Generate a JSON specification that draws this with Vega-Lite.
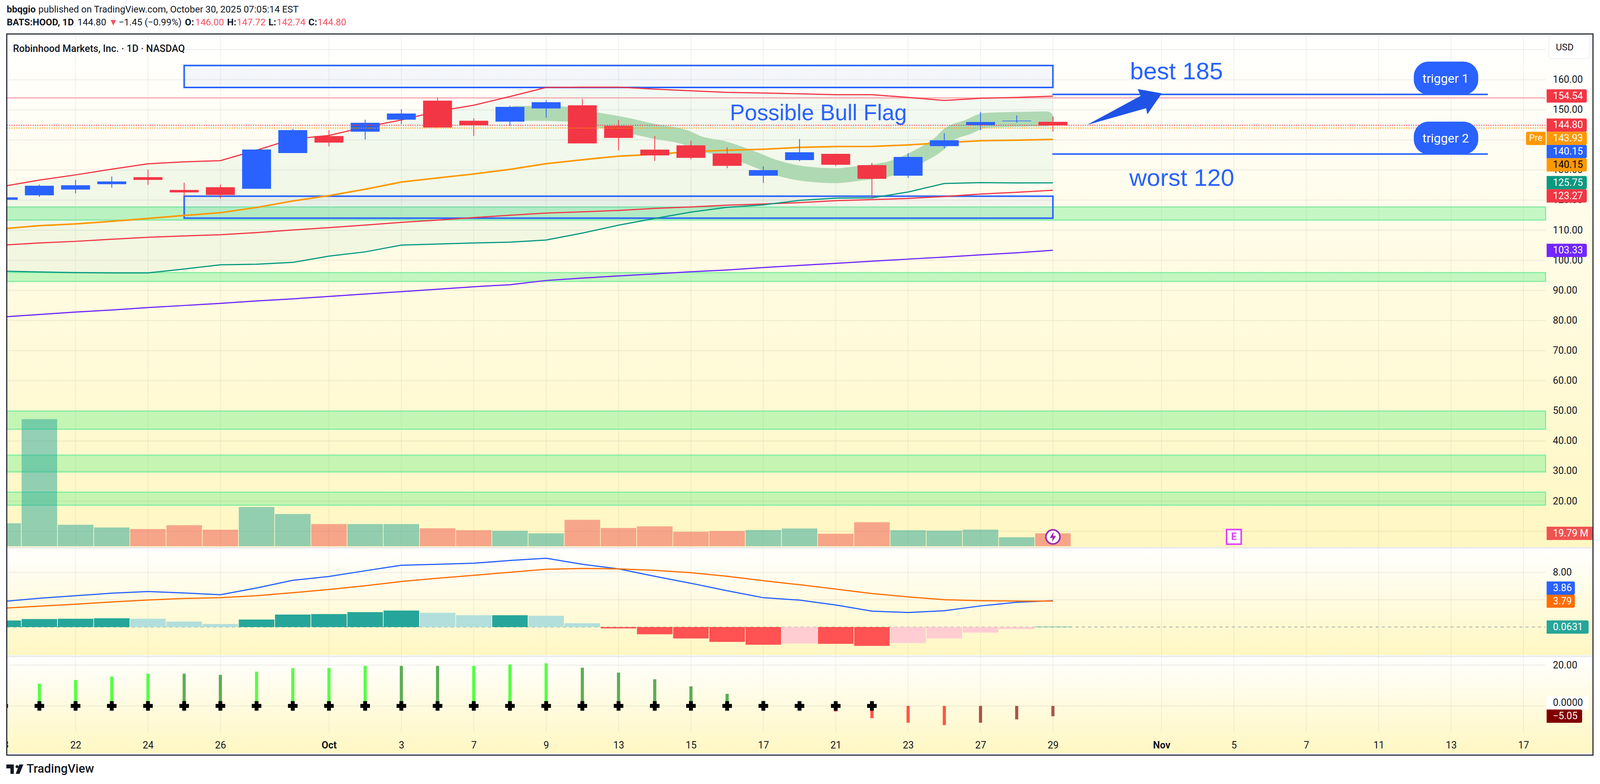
{
  "$schema": "https://vega.github.io/schema/vega-lite/v6.json",
  "width": 4096,
  "height": 2008,
  "autosize": {"type": "none"},
  "padding": 0,
  "background": "#ffffff",
  "config": {"view": {"stroke": null}, "font": "Roboto", "text": {"font": "Roboto"}},
  "datasets": {
    "bars": [
      {"bar":-2,"dir":"up","open":120.09,"high":120.89,"low":120.09,"close":120.89,"vol":35.4,"upper":124.58,"mid":110.5,"ma200":105.05,"lower":96.4,"ma50":81.2,"macd":3.74,"signal":2.75,"hist":0.95,"histKind":"upStrong","mom":9,"momKind":"upBright"},
      {"bar":-1,"dir":"up","open":121.58,"high":125.15,"low":121.07,"close":124.75,"vol":195.9,"upper":126.65,"mid":111.5,"ma200":105.75,"lower":96.13,"ma50":82,"macd":4.21,"signal":3.05,"hist":1.17,"histKind":"upStrong","mom":10.9,"momKind":"upBright"},
      {"bar":0,"dir":"up","open":123.49,"high":126.71,"low":122.22,"close":124.93,"vol":33.1,"upper":128.38,"mid":112.08,"ma200":106.3,"lower":95.9,"ma50":82.8,"macd":4.58,"signal":3.34,"hist":1.21,"histKind":"upStrong","mom":12.7,"momKind":"upBright"},
      {"bar":1,"dir":"up","open":125.27,"high":127.86,"low":124.12,"close":126.19,"vol":28.9,"upper":130.28,"mid":112.95,"ma200":107,"lower":95.8,"ma50":83.5,"macd":4.95,"signal":3.67,"hist":1.28,"histKind":"upStrong","mom":14.4,"momKind":"upBright"},
      {"bar":2,"dir":"down","open":127.63,"high":130.05,"low":125.04,"close":126.71,"vol":26.5,"upper":132.07,"mid":113.9,"ma200":107.65,"lower":95.8,"ma50":84.3,"macd":5.2,"signal":3.96,"hist":1.21,"histKind":"upWeak","mom":15.8,"momKind":"upBright"},
      {"bar":3,"dir":"down","open":123.37,"high":125.79,"low":121.3,"close":122.57,"vol":32.3,"upper":132.7,"mid":114.9,"ma200":108.1,"lower":97.1,"ma50":85,"macd":4.98,"signal":4.18,"hist":0.8,"histKind":"upWeak","mom":15.8,"momKind":"upDull"},
      {"bar":4,"dir":"down","open":124.29,"high":125.15,"low":120.55,"close":121.7,"vol":25.4,"upper":133.1,"mid":115.8,"ma200":108.5,"lower":98.5,"ma50":85.7,"macd":4.73,"signal":4.29,"hist":0.44,"histKind":"upWeak","mom":15.2,"momKind":"upDull"},
      {"bar":5,"dir":"up","open":123.77,"high":136.9,"low":123.77,"close":136.79,"vol":60.4,"upper":136.56,"mid":117.55,"ma200":109.2,"lower":98.7,"ma50":86.5,"macd":5.71,"signal":4.58,"hist":1.1,"histKind":"upStrong","mom":16.8,"momKind":"upBright"},
      {"bar":6,"dir":"up","open":135.64,"high":143.65,"low":135.64,"close":143.24,"vol":49.6,"upper":140.3,"mid":119.7,"ma200":110.07,"lower":99.3,"ma50":87.2,"macd":6.84,"signal":5.02,"hist":1.83,"histKind":"upStrong","mom":18.5,"momKind":"upBright"},
      {"bar":7,"dir":"down","open":141.28,"high":143.24,"low":137.83,"close":139.1,"vol":34.2,"upper":141.46,"mid":121.5,"ma200":110.87,"lower":101.4,"ma50":88,"macd":7.39,"signal":5.49,"hist":1.9,"histKind":"upStrong","mom":18.6,"momKind":"upBright"},
      {"bar":8,"dir":"up","open":142.73,"high":146.7,"low":140.13,"close":145.66,"vol":34.2,"upper":144.3,"mid":123.6,"ma200":111.7,"lower":102.8,"ma50":88.8,"macd":8.23,"signal":6.04,"hist":2.19,"histKind":"upStrong","mom":19.6,"momKind":"upBright"},
      {"bar":9,"dir":"up","open":146.7,"high":150.21,"low":145.26,"close":148.77,"vol":34.2,"upper":146.6,"mid":126,"ma200":112.6,"lower":105.05,"ma50":89.6,"macd":9.04,"signal":6.66,"hist":2.41,"histKind":"upStrong","mom":19.6,"momKind":"upDull"},
      {"bar":10,"dir":"down","open":153.03,"high":153.96,"low":144.11,"close":144.11,"vol":27.7,"upper":149.5,"mid":127.35,"ma200":113.35,"lower":105.4,"ma50":90.4,"macd":9.18,"signal":7.14,"hist":2.08,"histKind":"upWeak","mom":19.6,"momKind":"upDull"},
      {"bar":11,"dir":"down","open":146.35,"high":147.2,"low":141.29,"close":144.86,"vol":24.6,"upper":151.5,"mid":128.67,"ma200":114.2,"lower":105.75,"ma50":91.2,"macd":9.33,"signal":7.57,"hist":1.72,"histKind":"upWeak","mom":19.6,"momKind":"upBright"},
      {"bar":12,"dir":"up","open":146.07,"high":151.37,"low":144.68,"close":150.96,"vol":23.8,"upper":154.4,"mid":130.2,"ma200":114.96,"lower":106.03,"ma50":91.9,"macd":9.73,"signal":8.01,"hist":1.72,"histKind":"upStrong","mom":20.3,"momKind":"upBright"},
      {"bar":13,"dir":"up","open":150.43,"high":153.15,"low":147.37,"close":152.5,"vol":19.8,"upper":157.4,"mid":132.1,"ma200":115.7,"lower":106.73,"ma50":93.3,"macd":10.06,"signal":8.45,"hist":1.64,"histKind":"upWeak","mom":20.9,"momKind":"upBright"},
      {"bar":14,"dir":"down","open":151.47,"high":153.54,"low":138.83,"close":138.83,"vol":40.7,"upper":157.5,"mid":133.4,"ma200":116.1,"lower":109.05,"ma50":94.1,"macd":9.18,"signal":8.57,"hist":0.56,"histKind":"upWeak","mom":18.7,"momKind":"upDull"},
      {"bar":15,"dir":"down","open":144.65,"high":146.58,"low":136.51,"close":140.66,"vol":28.1,"upper":157.5,"mid":134.6,"ma200":116.56,"lower":111.67,"ma50":94.8,"macd":8.51,"signal":8.51,"hist":-0.2,"histKind":"downStrong","mom":16.3,"momKind":"upDull"},
      {"bar":16,"dir":"down","open":136.75,"high":141.3,"low":133,"close":134.83,"vol":30.5,"upper":156.85,"mid":135.2,"ma200":117.25,"lower":113.9,"ma50":95.5,"macd":7.42,"signal":8.3,"hist":-1.05,"histKind":"downStrong","mom":13.06,"momKind":"upDull"},
      {"bar":17,"dir":"down","open":138.19,"high":139.72,"low":133.54,"close":134.04,"vol":22.2,"upper":156.3,"mid":136.1,"ma200":117.74,"lower":116,"ma50":96.2,"macd":6.4,"signal":7.95,"hist":-1.67,"histKind":"downStrong","mom":9.6,"momKind":"upDull"},
      {"bar":18,"dir":"down","open":135.47,"high":137.54,"low":130.58,"close":131.37,"vol":23.4,"upper":155.8,"mid":136.56,"ma200":118.3,"lower":117.6,"ma50":96.8,"macd":5.31,"signal":7.42,"hist":-2.17,"histKind":"downStrong","mom":5.9,"momKind":"upDull"},
      {"bar":19,"dir":"up","open":128.11,"high":131.22,"low":125.69,"close":129.94,"vol":25,"upper":155.57,"mid":136.9,"ma200":118.7,"lower":118.4,"ma50":97.6,"macd":4.29,"signal":6.78,"hist":-2.58,"histKind":"downStrong","mom":2.45,"momKind":"upDull"},
      {"bar":20,"dir":"up","open":133.3,"high":140.26,"low":132.9,"close":135.87,"vol":27.4,"upper":155.3,"mid":137.5,"ma200":119.17,"lower":119.9,"ma50":98.3,"macd":3.94,"signal":6.19,"hist":-2.4,"histKind":"downWeak","mom":0,"momKind":"upDull"},
      {"bar":21,"dir":"down","open":135.37,"high":135.37,"low":131.37,"close":131.72,"vol":19.2,"upper":155,"mid":137.8,"ma200":119.8,"lower":120.66,"ma50":99,"macd":3.23,"signal":5.55,"hist":-2.46,"histKind":"downStrong","mom":-2.75,"momKind":"downBright"},
      {"bar":22,"dir":"down","open":131.62,"high":132.36,"low":120.8,"close":127.08,"vol":37,"upper":155,"mid":137.84,"ma200":120.16,"lower":120.75,"ma50":99.7,"macd":2.33,"signal":4.9,"hist":-2.75,"histKind":"downStrong","mom":-6,"momKind":"downBright"},
      {"bar":23,"dir":"up","open":128.11,"high":135.62,"low":127.37,"close":134.33,"vol":24.7,"upper":154.1,"mid":138.3,"ma200":120.56,"lower":122.68,"ma50":100.4,"macd":2.12,"signal":4.41,"hist":-2.34,"histKind":"downWeak","mom":-8.25,"momKind":"downBright"},
      {"bar":24,"dir":"up","open":137.94,"high":142.19,"low":137.15,"close":139.87,"vol":24.1,"upper":153.1,"mid":139.07,"ma200":121.2,"lower":125.5,"ma50":101.05,"macd":2.39,"signal":4,"hist":-1.67,"histKind":"downWeak","mom":-9.4,"momKind":"downBright"},
      {"bar":25,"dir":"up","open":144.9,"high":149.3,"low":143.22,"close":145.94,"vol":25.6,"upper":153.8,"mid":139.7,"ma200":122,"lower":125.8,"ma50":101.8,"macd":3.09,"signal":3.85,"hist":-0.82,"histKind":"downWeak","mom":-8.25,"momKind":"downDull"},
      {"bar":26,"dir":"up","open":146.19,"high":148.11,"low":145.69,"close":146.38,"vol":13.9,"upper":154.1,"mid":139.9,"ma200":122.6,"lower":125.7,"ma50":102.5,"macd":3.62,"signal":3.8,"hist":-0.29,"histKind":"downWeak","mom":-6.6,"momKind":"downDull"},
      {"bar":27,"dir":"down","open":146,"high":147.72,"low":142.74,"close":144.8,"vol":19.79,"upper":154.54,"mid":140.15,"ma200":123.27,"lower":125.75,"ma50":103.33,"macd":3.86,"signal":3.79,"hist":0.0631,"histKind":"upStrong","mom":-5.05,"momKind":"downDull"}
    ],
    "xticks": [{"bar":-2},{"bar":0},{"bar":2},{"bar":4},{"bar":7},{"bar":9},{"bar":11},{"bar":13},{"bar":15},{"bar":17},{"bar":19},{"bar":21},{"bar":23},{"bar":25},{"bar":27},{"bar":30},{"bar":32},{"bar":34},{"bar":36},{"bar":38},{"bar":40}],
    "brush": [
      {"k":0,"bar":12.15,"price":148.8},{"k":1,"bar":12.71,"price":148.8},{"k":2,"bar":13.65,"price":148.5},{"k":3,"bar":14.39,"price":146.7},{"k":4,"bar":15.06,"price":145.3},{"k":5,"bar":16,"price":142.8},{"k":6,"bar":16.85,"price":140.8},{"k":7,"bar":17.23,"price":138.8},{"k":8,"bar":17.89,"price":137.2},{"k":9,"bar":18.73,"price":133.7},{"k":10,"bar":19.3,"price":131},{"k":11,"bar":20.24,"price":128.6},{"k":12,"bar":20.99,"price":128.1},{"k":13,"bar":21.65,"price":128.9},{"k":14,"bar":22.6,"price":130.8},{"k":15,"bar":23.34,"price":134.8},{"k":16,"bar":23.9,"price":139.1},{"k":17,"bar":24.1,"price":141.5},{"k":18,"bar":24.66,"price":144.3},{"k":19,"bar":25.13,"price":146.5},{"k":20,"bar":25.88,"price":146.8},{"k":21,"bar":26.82,"price":147}
    ],
    "arrow": [
      {"k":0,"bar":27.98,"price":145.15},{"k":1,"bar":29.43,"price":154.6},{"k":2,"bar":29.35,"price":156.8},{"k":3,"bar":30,"price":155.4},{"k":4,"bar":29.61,"price":148.6},{"k":5,"bar":29.58,"price":150.6},{"k":6,"bar":27.98,"price":145.15}
    ],
    "priceTags": [
      {"label":"154.54","pos":154.6,"series":"upper","bar":40.64,"bar2":41.75},
      {"label":"144.80","pos":144.9,"series":"last","bar":40.64,"bar2":41.75},
      {"label":"143.93","pos":140.5,"series":"pre","bar":40.64,"bar2":41.75},
      {"label":"140.15","pos":136.1,"series":"blue","bar":40.64,"bar2":41.75},
      {"label":"140.15","pos":131.7,"series":"mid","bar":40.64,"bar2":41.75},
      {"label":"125.75","pos":125.8,"series":"lower","bar":40.64,"bar2":41.75},
      {"label":"123.27","pos":121.4,"series":"ma200","bar":40.64,"bar2":41.75},
      {"label":"103.33","pos":103.3,"series":"ma50","bar":40.64,"bar2":41.75}
    ]
  },
  "encoding": {
    "x": {
      "field": "bar",
      "type": "quantitative",
      "scale": {"domain": [-2.034, 42.06], "nice": false, "zero": false},
      "axis": {
        "orient": "bottom",
        "offset": -100,
        "values": [0,2,4,7,9,11,13,15,17,19,21,23,25,27,30,32,34,36,38,40],
        "labelExpr": "{'0':'22','2':'24','4':'26','7':'Oct','9':'3','11':'7','13':'9','15':'13','17':'15','19':'17','21':'21','23':'23','25':'27','27':'29','30':'Nov','32':'5','34':'7','36':'11','38':'13','40':'17'}[datum.value]",
        "labelFontWeight": {"condition": {"test": "datum.value == 7 || datum.value == 30", "value": "bold"}, "value": "normal"},
        "labelFontSize": 25,
        "labelColor": "#131722",
        "labelFont": "Roboto",
        "labelBaseline": "middle",
        "labelPadding": 0,
        "labelOverlap": false,
        "labelFlush": false,
        "labelBound": false,
        "domain": false,
        "ticks": false,
        "grid": false,
        "title": null,
        "zindex": 1
      }
    }
  },
  "resolve": {"scale": {"y": "independent", "color": "independent"}, "axis": {"y": "independent"}},
  "layer": [
    {
      "resolve": {"scale": {"color": "independent"}},
      "layer": [
        {
          "data": {"values": [{"bar":-1.9,"bar2":41.92,"top":174.58,"bot":4.77},{"bar":-1.9,"bar2":41.92,"top":4.77,"bot":-31.1},{"bar":-1.9,"bar2":41.92,"top":-31.1,"bot":-63.74}]},
          "mark": {"type": "rect", "fill": {"x1":0,"y1":0,"x2":0,"y2":1,"gradient":"linear","stops":[{"offset":0,"color":"#ffffff"},{"offset":1,"color":"#FFF7C2"}]}},
          "encoding": {
            "x2": {"field": "bar2"},
            "y": {"field": "top", "type": "quantitative", "scale": {"domain": [-73.29, 185.81], "nice": false, "zero": false}, "axis": null},
            "y2": {"field": "bot"}
          }
        },
        {
          "data": {"name": "xticks"},
          "mark": {"type": "rule", "stroke": "#000000", "strokeOpacity": 0.06, "strokeWidth": 2},
          "encoding": {"y": {"datum": 174.58, "axis": null}, "y2": {"datum": -56.5}}
        },
        {
          "data": {"values": [{"bar":-1.9,"bar2":40.61,"price":170},{"bar":-1.9,"bar2":40.61,"price":160},{"bar":-1.9,"bar2":40.61,"price":150},{"bar":-1.9,"bar2":40.61,"price":140},{"bar":-1.9,"bar2":40.61,"price":130},{"bar":-1.9,"bar2":40.61,"price":120},{"bar":-1.9,"bar2":40.61,"price":110},{"bar":-1.9,"bar2":40.61,"price":100},{"bar":-1.9,"bar2":40.61,"price":90},{"bar":-1.9,"bar2":40.61,"price":80},{"bar":-1.9,"bar2":40.61,"price":70},{"bar":-1.9,"bar2":40.61,"price":60},{"bar":-1.9,"bar2":40.61,"price":50},{"bar":-1.9,"bar2":40.61,"price":40},{"bar":-1.9,"bar2":40.61,"price":30},{"bar":-1.9,"bar2":40.61,"price":20},{"bar":-1.9,"bar2":40.61,"price":10}]},
          "mark": {"type": "rule", "stroke": "#000000", "strokeOpacity": 0.05, "strokeWidth": 3},
          "encoding": {"x2": {"field": "bar2"}, "y": {"field": "price", "type": "quantitative", "axis": null}}
        },
        {
          "data": {"values": [{"bar":-1.9,"bar2":40.61,"hi":117.7,"lo":113.4},{"bar":-1.9,"bar2":40.61,"hi":95.9,"lo":93},{"bar":-1.9,"bar2":40.61,"hi":49.9,"lo":43.9},{"bar":-1.9,"bar2":40.61,"hi":35.3,"lo":29.7},{"bar":-1.9,"bar2":40.61,"hi":23,"lo":18.7}]},
          "mark": {"type": "rect", "fill": "#66EE88", "fillOpacity": 0.38, "stroke": "#84EDA4", "strokeWidth": 3},
          "encoding": {"x2": {"field": "bar2"}, "y": {"field": "hi", "type": "quantitative", "axis": null}, "y2": {"field": "lo"}}
        },
        {
          "data": {"name": "bars"},
          "mark": {"type": "area", "fill": "#089981", "fillOpacity": 0.05},
          "encoding": {"y": {"field": "upper", "type": "quantitative", "axis": null}, "y2": {"field": "lower"}}
        },
        {
          "data": {"values": [{"bar":3,"bar2":27,"hi":164.7,"lo":157.4},{"bar":3,"bar2":27,"hi":121.3,"lo":114}]},
          "mark": {"type": "rect", "fill": "#2962FF", "fillOpacity": 0.05, "stroke": "#2962FF", "strokeWidth": 4},
          "encoding": {"x2": {"field": "bar2"}, "y": {"field": "hi", "type": "quantitative", "axis": null}, "y2": {"field": "lo"}}
        },
        {
          "data": {"name": "brush"},
          "mark": {"type": "line", "stroke": "#AFD9B3", "strokeWidth": 38, "strokeCap": "round", "strokeJoin": "round", "interpolate": "monotone"},
          "encoding": {"y": {"field": "price", "type": "quantitative", "axis": null}, "order": {"field": "k"}}
        },
        {
          "data": {"values": [{"bar":-1.9,"bar2":40.61,"price":153.95}]},
          "mark": {"type": "rule", "stroke": "#F7A8AE", "strokeWidth": 3},
          "encoding": {"x2": {"field": "bar2"}, "y": {"field": "price", "type": "quantitative", "axis": null}}
        },
        {"data": {"name": "bars"}, "mark": {"type": "line", "stroke": "#F23645", "strokeWidth": 3}, "encoding": {"y": {"field": "upper", "type": "quantitative", "axis": null}}},
        {"data": {"name": "bars"}, "mark": {"type": "line", "stroke": "#FF9800", "strokeWidth": 4}, "encoding": {"y": {"field": "mid", "type": "quantitative", "axis": null}}},
        {"data": {"name": "bars"}, "mark": {"type": "line", "stroke": "#F23645", "strokeWidth": 3}, "encoding": {"y": {"field": "ma200", "type": "quantitative", "axis": null}}},
        {"data": {"name": "bars"}, "mark": {"type": "line", "stroke": "#089981", "strokeWidth": 3}, "encoding": {"y": {"field": "lower", "type": "quantitative", "axis": null}}},
        {"data": {"name": "bars"}, "mark": {"type": "line", "stroke": "#7127FF", "strokeWidth": 3}, "encoding": {"y": {"field": "ma50", "type": "quantitative", "axis": null}}},
        {
          "data": {"name": "bars"},
          "mark": {"type": "rule", "strokeWidth": 2},
          "encoding": {
            "y": {"field": "high", "type": "quantitative", "axis": null},
            "y2": {"field": "low"},
            "color": {"field": "dir", "type": "nominal", "scale": {"domain": ["up","down"], "range": ["#2962FF","#F23645"]}, "legend": null}
          }
        },
        {
          "data": {"name": "bars"},
          "mark": {"type": "bar", "size": 74, "orient": "vertical"},
          "encoding": {
            "y": {"field": "open", "type": "quantitative", "axis": null},
            "y2": {"field": "close"},
            "color": {"field": "dir", "type": "nominal", "scale": {"domain": ["up","down"], "range": ["#2962FF","#F23645"]}, "legend": null}
          }
        },
        {
          "data": {"values": [{"bar":-1.9,"bar2":40.61,"price":144.85,"line":"last"},{"bar":-1.9,"bar2":40.61,"price":143.93,"line":"pre"}]},
          "mark": {"type": "rule", "strokeWidth": 2, "strokeDash": [3,3]},
          "encoding": {
            "x2": {"field": "bar2"},
            "y": {"field": "price", "type": "quantitative", "axis": null},
            "color": {"field": "line", "type": "nominal", "scale": {"domain": ["last","pre"], "range": ["#F23645","#FF9800"]}, "legend": null}
          }
        },
        {
          "data": {"values": [{"bar":36.97,"bar2":38.75,"hi":166,"lo":155},{"bar":36.97,"bar2":38.75,"hi":146.06,"lo":135.2}]},
          "mark": {"type": "rect", "fill": "#2962FF", "cornerRadius": 38},
          "encoding": {"x2": {"field": "bar2"}, "y": {"field": "hi", "type": "quantitative", "axis": null}, "y2": {"field": "lo"}}
        },
        {
          "data": {"values": [{"bar":27,"bar2":39,"price":155.1},{"bar":27,"bar2":39,"price":135.3}]},
          "mark": {"type": "rule", "stroke": "#2962FF", "strokeWidth": 4, "strokeCap": "round"},
          "encoding": {"x2": {"field": "bar2"}, "y": {"field": "price", "type": "quantitative", "axis": null}}
        },
        {
          "data": {"name": "arrow"},
          "mark": {"type": "line", "fill": "#1E53E5", "stroke": "#1E53E5", "strokeWidth": 1},
          "encoding": {"y": {"field": "price", "type": "quantitative", "axis": null}, "order": {"field": "k"}}
        },
        {
          "data": {"values": [{"t":"trigger 1","bar":37.85,"price":160.3},{"t":"trigger 2","bar":37.85,"price":140.4}]},
          "mark": {"type": "text", "color": "#ffffff", "fontSize": 32, "align": "center", "baseline": "middle"},
          "encoding": {"y": {"field": "price", "type": "quantitative", "axis": null}, "text": {"field": "t"}}
        },
        {
          "data": {"values": [{"t":"Possible Bull Flag","bar":20.52,"price":148.7}]},
          "mark": {"type": "text", "font": "Liberation Sans", "color": "#2962FF", "fontSize": 57, "align": "center", "baseline": "middle"},
          "encoding": {"y": {"field": "price", "type": "quantitative", "axis": null}, "text": {"field": "t"}}
        },
        {
          "data": {"values": [{"t":"best 185","bar":29.13,"price":162.6},{"t":"worst 120","bar":29.11,"price":127.2}]},
          "mark": {"type": "text", "font": "Liberation Sans", "color": "#2962FF", "fontSize": 62, "align": "left", "baseline": "middle"},
          "encoding": {"y": {"field": "price", "type": "quantitative", "axis": null}, "text": {"field": "t"}}
        },
        {
          "data": {"values": [{"t":"Robinhood Markets, Inc. · 1D · NASDAQ","bar":-1.729,"price":170.26}]},
          "mark": {"type": "text", "color": "#131722", "fontSize": 25, "fontWeight": 500, "align": "left", "baseline": "middle"},
          "encoding": {"y": {"field": "price", "type": "quantitative", "axis": null}, "text": {"field": "t"}}
        },
        {
          "data": {"values": [{"bar":40.81,"price":160},{"bar":40.81,"price":150},{"bar":40.81,"price":130},{"bar":40.81,"price":120},{"bar":40.81,"price":110},{"bar":40.81,"price":100},{"bar":40.81,"price":90},{"bar":40.81,"price":80},{"bar":40.81,"price":70},{"bar":40.81,"price":60},{"bar":40.81,"price":50},{"bar":40.81,"price":40},{"bar":40.81,"price":30},{"bar":40.81,"price":20}]},
          "mark": {"type": "text", "color": "#131722", "fontSize": 25, "align": "left", "baseline": "middle"},
          "encoding": {"y": {"field": "price", "type": "quantitative", "axis": null}, "text": {"field": "price", "format": ".2f"}}
        },
        {
          "data": {"name": "priceTags"},
          "mark": {"type": "bar", "size": 34, "orient": "horizontal", "cornerRadiusTopRight": 4, "cornerRadiusBottomRight": 4},
          "encoding": {
            "x2": {"field": "bar2"},
            "y": {"field": "pos", "type": "quantitative", "axis": null},
            "color": {"field": "series", "type": "nominal", "scale": {"domain": ["upper","last","pre","blue","mid","lower","ma200","ma50"], "range": ["#F23645","#F23645","#FF9800","#2962FF","#FF9800","#089981","#F23645","#7127FF"]}, "legend": null}
          }
        },
        {
          "data": {"values": [{"bar":40.07,"bar2":40.61,"pos":140.5}]},
          "mark": {"type": "bar", "size": 34, "orient": "horizontal", "color": "#FF9800", "cornerRadiusTopLeft": 4, "cornerRadiusBottomLeft": 4},
          "encoding": {"x2": {"field": "bar2"}, "y": {"field": "pos", "type": "quantitative", "axis": null}}
        },
        {
          "data": {"values": [{"t":"Pre","bar":40.34,"pos":140.5}]},
          "mark": {"type": "text", "color": "#ffffff", "fontSize": 23, "align": "center", "baseline": "middle"},
          "encoding": {"y": {"field": "pos", "type": "quantitative", "axis": null}, "text": {"field": "t"}}
        },
        {
          "data": {"name": "priceTags"},
          "mark": {"type": "text", "fontSize": 25, "align": "left", "baseline": "middle", "dx": 16},
          "encoding": {
            "y": {"field": "pos", "type": "quantitative", "axis": null},
            "text": {"field": "label"},
            "color": {"condition": {"test": "datum.series == 'mid'", "value": "#000000"}, "value": "#ffffff"}
          }
        }
      ]
    },
    {
      "layer": [
        {
          "data": {"name": "bars"},
          "mark": {"type": "bar", "size": 91, "orient": "vertical", "opacity": 0.5},
          "encoding": {
            "y": {"field": "vol", "type": "quantitative", "scale": {"domain": [-363.5, 838.9], "nice": false, "zero": false}, "axis": null},
            "y2": {"datum": 0},
            "color": {"field": "dir", "type": "nominal", "scale": {"domain": ["up","down"], "range": ["#26A69A","#EF5350"]}, "legend": null}
          }
        },
        {
          "data": {"values": [{"bar":27,"vol":14.4}]},
          "mark": {"type": "point", "shape": "circle", "size": 1300, "filled": true, "fill": "#ffffff", "stroke": "#9C27B0", "strokeWidth": 4, "opacity": 1},
          "encoding": {"y": {"field": "vol", "type": "quantitative", "axis": null}}
        },
        {
          "data": {"values": [{"bar":27,"vol":14.4}]},
          "mark": {"type": "point", "shape": "M0.15 -1 L-0.6 0.2 L-0.05 0.2 L-0.15 1 L0.6 -0.2 L0.05 -0.2 Z", "size": 700, "filled": true, "fill": "#9C27B0", "strokeWidth": 0, "opacity": 1},
          "encoding": {"y": {"field": "vol", "type": "quantitative", "axis": null}}
        },
        {
          "data": {"values": [{"bar":32,"vol":14.4}]},
          "mark": {"type": "point", "shape": "square", "size": 1400, "filled": true, "fill": "#ffffff", "stroke": "#E040FB", "strokeWidth": 4, "opacity": 1},
          "encoding": {"y": {"field": "vol", "type": "quantitative", "axis": null}}
        },
        {
          "data": {"values": [{"t":"E","bar":32,"vol":14.4}]},
          "mark": {"type": "text", "color": "#E040FB", "fontSize": 25, "fontWeight": "bold", "align": "center", "baseline": "middle"},
          "encoding": {"y": {"field": "vol", "type": "quantitative", "axis": null}, "text": {"field": "t"}}
        },
        {
          "data": {"values": [{"bar":40.64,"bar2":41.92,"vol":19.79}]},
          "mark": {"type": "bar", "size": 34, "orient": "horizontal", "color": "#EF5350", "cornerRadiusTopRight": 4, "cornerRadiusBottomRight": 4},
          "encoding": {"x2": {"field": "bar2"}, "y": {"field": "vol", "type": "quantitative", "axis": null}}
        },
        {
          "data": {"values": [{"t":"19.79 M","bar":40.64,"vol":19.79}]},
          "mark": {"type": "text", "color": "#ffffff", "fontSize": 25, "align": "left", "baseline": "middle", "dx": 16},
          "encoding": {"y": {"field": "vol", "type": "quantitative", "axis": null}, "text": {"field": "t"}}
        }
      ]
    },
    {
      "resolve": {"scale": {"color": "independent"}},
      "layer": [
        {
          "data": {"values": [{"bar":-1.9,"bar2":40.61,"v":8},{"bar":-1.9,"bar2":40.61,"v":4}]},
          "mark": {"type": "rule", "stroke": "#000000", "strokeOpacity": 0.05, "strokeWidth": 3},
          "encoding": {
            "x2": {"field": "bar2"},
            "y": {"field": "v", "type": "quantitative", "scale": {"domain": [-22.67, 91.42], "nice": false, "zero": false}, "axis": null}
          }
        },
        {
          "data": {"values": [{"bar":-1.9,"bar2":40.61,"v":0}]},
          "mark": {"type": "rule", "stroke": "#ABABAB", "strokeWidth": 2, "strokeDash": [8,8]},
          "encoding": {"x2": {"field": "bar2"}, "y": {"field": "v", "type": "quantitative", "axis": null}}
        },
        {
          "data": {"name": "bars"},
          "mark": {"type": "bar", "size": 91, "orient": "vertical"},
          "encoding": {
            "y": {"field": "hist", "type": "quantitative", "axis": null},
            "y2": {"datum": 0},
            "color": {"field": "histKind", "type": "nominal", "scale": {"domain": ["upStrong","upWeak","downStrong","downWeak"], "range": ["#26A69A","#B2DFDB","#FF5252","#FFCDD2"]}, "legend": null}
          }
        },
        {"data": {"name": "bars"}, "mark": {"type": "line", "stroke": "#2962FF", "strokeWidth": 3}, "encoding": {"y": {"field": "macd", "type": "quantitative", "axis": null}}},
        {"data": {"name": "bars"}, "mark": {"type": "line", "stroke": "#FF6D00", "strokeWidth": 3}, "encoding": {"y": {"field": "signal", "type": "quantitative", "axis": null}}},
        {
          "data": {"values": [{"bar":40.81,"v":8}]},
          "mark": {"type": "text", "color": "#131722", "fontSize": 25, "align": "left", "baseline": "middle"},
          "encoding": {"y": {"field": "v", "type": "quantitative", "axis": null}, "text": {"field": "v", "format": ".2f"}}
        },
        {
          "data": {"values": [{"label":"0.0631","v":0,"bar":40.64,"bar2":41.8,"series":"hist"},{"label":"3.79","v":3.79,"bar":40.64,"bar2":41.42,"series":"signal"},{"label":"3.86","v":5.7,"bar":40.64,"bar2":41.42,"series":"macd"}]},
          "mark": {"type": "bar", "size": 34, "orient": "horizontal", "cornerRadiusTopRight": 4, "cornerRadiusBottomRight": 4},
          "encoding": {
            "x2": {"field": "bar2"},
            "y": {"field": "v", "type": "quantitative", "axis": null},
            "color": {"field": "series", "type": "nominal", "scale": {"domain": ["hist","signal","macd"], "range": ["#26A69A","#FF6D00","#2962FF"]}, "legend": null}
          }
        },
        {
          "data": {"values": [{"label":"0.0631","v":0,"bar":40.64},{"label":"3.79","v":3.79,"bar":40.64},{"label":"3.86","v":5.7,"bar":40.64}]},
          "mark": {"type": "text", "color": "#ffffff", "fontSize": 25, "align": "left", "baseline": "middle", "dx": 16},
          "encoding": {"y": {"field": "v", "type": "quantitative", "axis": null}, "text": {"field": "label"}}
        }
      ]
    },
    {
      "resolve": {"scale": {"color": "independent"}},
      "layer": [
        {
          "data": {"values": [{"bar":-1.9,"bar2":40.61,"v":20},{"bar":-1.9,"bar2":40.61,"v":0}]},
          "mark": {"type": "rule", "stroke": "#000000", "strokeOpacity": 0.05, "strokeWidth": 3},
          "encoding": {
            "x2": {"field": "bar2"},
            "y": {"field": "v", "type": "quantitative", "scale": {"domain": [-37.33, 345.14], "nice": false, "zero": false}, "axis": null}
          }
        },
        {
          "data": {"name": "bars"},
          "mark": {"type": "bar", "size": 8, "orient": "vertical"},
          "encoding": {
            "y": {"field": "mom", "type": "quantitative", "axis": null},
            "y2": {"datum": 0},
            "color": {"field": "momKind", "type": "nominal", "scale": {"domain": ["upBright","upDull","downBright","downDull"], "range": ["#55FF44","#5BAD55","#FF5544","#A5574A"]}, "legend": null}
          }
        },
        {
          "data": {"name": "bars"},
          "transform": [{"filter": "datum.bar <= 22"}],
          "mark": {"type": "point", "shape": "cross", "size": 600, "filled": true, "color": "#000000", "opacity": 1},
          "encoding": {"y": {"datum": 0, "type": "quantitative", "axis": null}}
        },
        {
          "data": {"values": [{"bar":40.81,"v":20}]},
          "mark": {"type": "text", "color": "#131722", "fontSize": 25, "align": "left", "baseline": "middle"},
          "encoding": {"y": {"field": "v", "type": "quantitative", "axis": null}, "text": {"field": "v", "format": ".2f"}}
        },
        {
          "data": {"values": [{"label":"0.0000","v":1.5,"bar":40.64,"bar2":41.8,"series":"zero"},{"label":"−5.05","v":-5.05,"bar":40.64,"bar2":41.62,"series":"last"}]},
          "mark": {"type": "bar", "size": 34, "orient": "horizontal", "cornerRadiusTopRight": 4, "cornerRadiusBottomRight": 4},
          "encoding": {
            "x2": {"field": "bar2"},
            "y": {"field": "v", "type": "quantitative", "axis": null},
            "color": {"field": "series", "type": "nominal", "scale": {"domain": ["zero","last"], "range": ["#ffffff","#800000"]}, "legend": null}
          }
        },
        {
          "data": {"values": [{"label":"0.0000","v":1.5,"series":"zero","bar":40.64},{"label":"−5.05","v":-5.05,"series":"last","bar":40.64}]},
          "mark": {"type": "text", "fontSize": 25, "align": "left", "baseline": "middle", "dx": 16},
          "encoding": {
            "y": {"field": "v", "type": "quantitative", "axis": null},
            "text": {"field": "label"},
            "color": {"condition": {"test": "datum.series == 'zero'", "value": "#131722"}, "value": "#ffffff"}
          }
        }
      ]
    },
    {
      "layer": [
        {
          "data": {"values": [{"t":"18","bar":-2,"price":-60.4}]},
          "mark": {"type": "text", "color": "#131722", "fontSize": 25, "align": "center", "baseline": "middle"},
          "encoding": {
            "y": {"field": "price", "type": "quantitative", "scale": {"domain": [-73.29, 185.81], "nice": false, "zero": false}, "axis": null},
            "text": {"field": "t"}
          }
        },
        {
          "data": {"values": [{"bar":-3,"bar2":-1.9,"hi":174.58,"lo":-63.74}]},
          "mark": {"type": "rect", "fill": "#ffffff"},
          "encoding": {"x2": {"field": "bar2"}, "y": {"field": "hi", "type": "quantitative", "axis": null}, "y2": {"field": "lo"}}
        },
        {
          "data": {"values": [{"bar":-1.9,"bar2":41.92,"price":4.77},{"bar":-1.9,"bar2":41.92,"price":-31.1}]},
          "mark": {"type": "rule", "stroke": "#EAEAEA", "strokeWidth": 4},
          "encoding": {"x2": {"field": "bar2"}, "y": {"field": "price", "type": "quantitative", "axis": null}}
        },
        {
          "data": {"values": [{"bar":-1.902,"bar2":41.92,"hi":174.58,"lo":-63.74}]},
          "mark": {"type": "rect", "filled": false, "stroke": "#2A2E39", "strokeWidth": 3},
          "encoding": {"x2": {"field": "bar2"}, "y": {"field": "hi", "type": "quantitative", "axis": null}, "y2": {"field": "lo"}}
        },
        {
          "data": {"values": [{"bar":40.7,"bar2":41.83,"hi":174.2,"lo":166.45}]},
          "mark": {"type": "rect", "fill": "#ffffff", "stroke": "#F0F0F0", "strokeWidth": 2, "cornerRadius": 8},
          "encoding": {"x2": {"field": "bar2"}, "y": {"field": "hi", "type": "quantitative", "axis": null}, "y2": {"field": "lo"}}
        },
        {
          "data": {"values": [{"t":"USD","bar":41.14,"price":170.06}]},
          "mark": {"type": "text", "color": "#131722", "fontSize": 24, "align": "center", "baseline": "middle"},
          "encoding": {"y": {"field": "price", "type": "quantitative", "axis": null}, "text": {"field": "t"}}
        },
        {
          "data": {"values": [{"t":"bbqgio","bar":-1.902,"price":182.6},{"t":"BATS:HOOD, 1D","bar":-1.902,"price":178.3},{"t":"O:","bar":3.02,"price":178.3},{"t":"H:","bar":4.185,"price":178.3},{"t":"L:","bar":5.329,"price":178.3},{"t":"C:","bar":6.432,"price":178.3}]},
          "mark": {"type": "text", "color": "#131722", "fontSize": 24, "fontWeight": "bold", "align": "left", "baseline": "middle"},
          "encoding": {"y": {"field": "price", "type": "quantitative", "axis": null}, "text": {"field": "t"}}
        },
        {
          "data": {"values": [{"t":"published on TradingView.com, October 30, 2025 07:05:14 EST","bar":-1.027,"price":182.6},{"t":"144.80","bar":0.051,"price":178.3},{"t":"−1.45 (−0.99%)","bar":1.19,"price":178.3}]},
          "mark": {"type": "text", "color": "#131722", "fontSize": 24, "align": "left", "baseline": "middle"},
          "encoding": {"y": {"field": "price", "type": "quantitative", "axis": null}, "text": {"field": "t"}}
        },
        {
          "data": {"values": [{"t":"▼","bar":0.915,"price":178.3},{"t":"146.00","bar":3.305,"price":178.3},{"t":"147.72","bar":4.454,"price":178.3},{"t":"142.74","bar":5.558,"price":178.3},{"t":"144.80","bar":6.682,"price":178.3}]},
          "mark": {"type": "text", "color": "#F7525F", "fontSize": 24, "align": "left", "baseline": "middle"},
          "encoding": {"y": {"field": "price", "type": "quantitative", "axis": null}, "text": {"field": "t"}}
        },
        {
          "data": {"values": [{"bar":-1.678,"price":-68.4}]},
          "mark": {"type": "point", "shape": "M-1 -0.55 H-0.12 V0.55 H-0.52 V-0.1 H-1 Z M0.08 -0.3 A0.17 0.17 0 1 0 0.42 -0.3 A0.17 0.17 0 1 0 0.08 -0.3 Z M0.52 -0.55 H1 L0.55 0.55 H0.1 Z", "size": 1900, "filled": true, "fill": "#131722", "strokeWidth": 0, "opacity": 1},
          "encoding": {"y": {"field": "price", "type": "quantitative", "axis": null}}
        },
        {
          "data": {"values": [{"t":"TradingView","bar":-1.353,"price":-68.4}]},
          "mark": {"type": "text", "color": "#131722", "fontSize": 31, "fontWeight": 500, "align": "left", "baseline": "middle"},
          "encoding": {"y": {"field": "price", "type": "quantitative", "axis": null}, "text": {"field": "t"}}
        }
      ]
    }
  ]
}
